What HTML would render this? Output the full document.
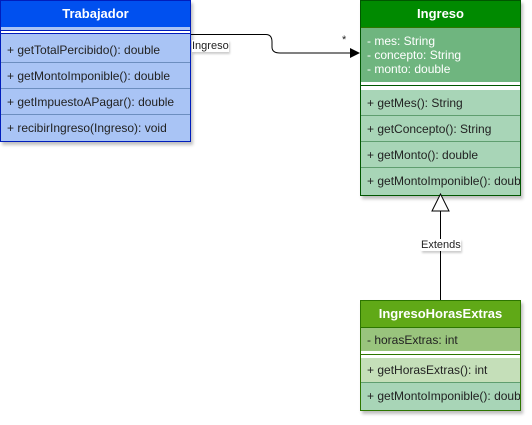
<!DOCTYPE html><html><head><style>
body{margin:0;width:532px;height:425px;background:#fff;font-family:"Liberation Sans",sans-serif;font-size:12px;position:relative;overflow:hidden}
.b{position:absolute;box-sizing:border-box;border:1px solid;box-shadow:2px 3px 3px rgba(0,0,0,.25)}
.h{height:26px;line-height:26px;text-align:center;color:#fff;font-weight:bold;font-size:13px}
.r{box-sizing:border-box;padding-left:6px;white-space:nowrap;overflow:hidden;color:#222}
.l{position:absolute;font-size:11px;background:#fff;color:#222;box-shadow:1px 2px 2px rgba(0,0,0,.2)}
</style></head><body>
<div class="b" style="left:0;top:0;width:191px;height:142px;border-color:#001dbc;background:#a9c4f5">
<div class="h" style="background:#0050ef">Trabajador</div>
<div style="height:8px;border-top:1px solid #001dbc;border-bottom:1px solid #001dbc;background:#fff;height:2px;margin-top:3px"></div>
<div style="height:3px"></div>
<div class="r" style="height:26px;line-height:26px;border-bottom:1px solid #6c8ebf">+ getTotalPercibido(): double</div>
<div class="r" style="height:26px;line-height:26px;border-bottom:1px solid #6c8ebf">+ getMontoImponible(): double</div>
<div class="r" style="height:26px;line-height:26px;border-bottom:1px solid #6c8ebf">+ getImpuestoAPagar(): double</div>
<div class="r" style="height:26px;line-height:26px">+ recibirIngreso(Ingreso): void</div>
</div>
<div class="b" style="left:360px;top:0;width:161px;height:196px;border-color:#005700;background:#a8d5b7">
<div class="h" style="background:#008a00">Ingreso</div>
<div class="r" style="height:55px;background:#6fb57f;color:#fff;padding-top:6px;line-height:14px;border-top:1px solid #2d7600">- mes: String<br>- concepto: String<br>- monto: double</div>
<div style="height:3px;background:#fff;border-bottom:1px solid #005700"></div>
<div style="height:4px;background:#fff"></div>
<div class="r" style="height:26px;line-height:26px;border-bottom:1px solid #5f9e6f">+ getMes(): String</div>
<div class="r" style="height:26px;line-height:26px;border-bottom:1px solid #5f9e6f">+ getConcepto(): String</div>
<div class="r" style="height:26px;line-height:26px;border-bottom:1px solid #5f9e6f">+ getMonto(): double</div>
<div class="r" style="height:26px;line-height:26px">+ getMontoImponible(): double</div>
</div>
<div class="b" style="left:360px;top:300px;width:161px;height:111px;border-color:#2d7600;background:#a8d5b7">
<div class="h" style="background:#60a917">IngresoHorasExtras</div>
<div class="r" style="height:24px;line-height:24px;background:#99c47d;border-top:1px solid #2d7600">- horasExtras: int</div>
<div style="height:3px;background:#fff;border-bottom:1px solid #2d7600"></div>
<div style="height:3px;background:#fff"></div>
<div class="r" style="height:25px;line-height:25px;background:#c5dfb9;border-bottom:1px solid #5f9e6f">+ getHorasExtras(): int</div>
<div class="r" style="height:26px;line-height:26px">+ getMontoImponible(): double</div>
</div>
<svg style="position:absolute;left:0;top:0" width="532" height="425">
<path d="M191 34.5 H266 Q272 34.5 272 42 V47 Q272 53 280 53 H350" fill="none" stroke="#000" stroke-width="1"/>
<path d="M350 48 L360 53 L350 58 Z" fill="#000"/>
<line x1="440.5" y1="211" x2="440.5" y2="300" stroke="#000"/>
<path d="M432 211 L440.5 194 L449 211 Z" fill="#fff" stroke="#000"/>
</svg>
<div class="l" style="left:192px;top:40px">Ingreso</div>
<div class="l" style="left:342px;top:34px;background:none;box-shadow:none">*</div>
<div class="l" style="left:421px;top:239px">Extends</div>
</body></html>
